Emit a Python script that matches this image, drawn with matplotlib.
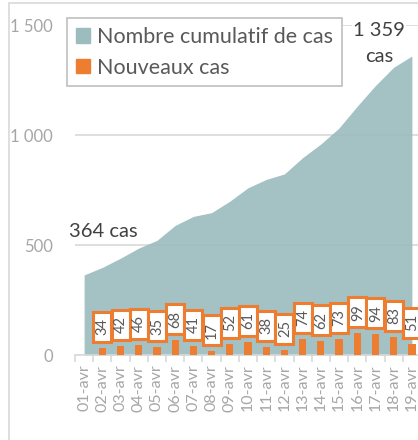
import matplotlib
matplotlib.use("Agg")
import matplotlib.pyplot as plt
import matplotlib.transforms as mtransforms
from matplotlib.patches import Rectangle, Patch

plt.rcParams['font.family'] = ['Lato', 'DejaVu Sans']

# data
days = ['01-avr', '02-avr', '03-avr', '04-avr', '05-avr', '06-avr', '07-avr',
        '08-avr', '09-avr', '10-avr', '11-avr', '12-avr', '13-avr', '14-avr',
        '15-avr', '16-avr', '17-avr', '18-avr', '19-avr']
cumul = [364, 398, 440, 486, 521, 589, 630, 647, 699, 760, 798, 823, 897,
         959, 1032, 1131, 1225, 1308, 1359]
nouveaux = [None, 34, 42, 46, 35, 68, 41, 17, 52, 61, 38, 25, 74, 62, 73,
            99, 94, 83, 51]

TEAL = '#9cbcbe'
ORANGE = '#ed7d31'

W, H = 418, 440
fig = plt.figure(figsize=(W / 100, H / 100), dpi=100)

# outer chart frame (cropped screenshot)
fig.patches.append(Rectangle((9 / W, -0.1), 1.2, 1 - 3 / H + 0.1, transform=fig.transFigure,
                             fill=False, edgecolor='#d9d9d9', linewidth=1.2))

ax = fig.add_axes([75 / W, 85 / H, 346 / W, 330 / H])
x = list(range(len(days)))

ax.fill_between(x, cumul, 0, color=TEAL, linewidth=0, zorder=2, alpha=0.92)
xb = [i for i, v in zip(x, nouveaux) if v is not None]
vb = [v for v in nouveaux if v is not None]
ax.bar(xb, vb, width=0.4, color=ORANGE, zorder=3)

# data labels: white boxes with orange border, sized in pixels above each bar
bw, bh, gap = 18, 30, 6
for i, v in zip(xb, vb):
    tr = mtransforms.ScaledTranslation(i, v, ax.transData)
    ax.add_patch(Rectangle((-bw / 2, gap), bw, bh, transform=tr, fc='white',
                           ec=ORANGE, lw=2.2, zorder=5, clip_on=False))
    ax.annotate(str(v), (i, v), xytext=(0.5, gap + bh / 2), textcoords='offset pixels',
                rotation=90, ha='center', va='center', fontsize=10.5, color='#595959',
                zorder=6, annotation_clip=False)

ax.set_xlim(-0.5, len(days) - 0.5)
ax.set_ylim(0, 1500)
ax.set_yticks([0, 500, 1000, 1500])
ax.set_yticklabels(['0', '500', '1 000', '1 500'])
ax.yaxis.grid(True, color='#d9d9d9', linewidth=1.2, zorder=1)
ax.set_axisbelow(True)
ax.tick_params(axis='y', length=0, pad=16, labelsize=12, labelcolor='#a6a6a6')

ax.set_xticks(x)
ax.set_xticklabels(days, rotation=90, fontsize=11.5, color='#a6a6a6')
ax.set_xticks([i - 0.5 for i in range(len(days) + 1)], minor=True)
ax.tick_params(axis='x', which='major', length=0, pad=7)
ax.tick_params(axis='x', which='minor', length=5, color='#d9d9d9', width=1.2)

for s in ['top', 'right', 'left']:
    ax.spines[s].set_visible(False)
ax.spines['bottom'].set_color('#d9d9d9')
ax.spines['bottom'].set_linewidth(1.2)

ax.text(-0.85, 560, f'{cumul[0]} cas', fontsize=14.5, color='#404040',
        ha='left', va='center', zorder=6)
ax.text(len(days) - 2.8, 1477, '1 359', fontsize=14.5, color='#404040',
        ha='center', va='center', zorder=6,
        bbox=dict(fc='white', ec='none', pad=1))
ax.text(len(days) - 2.8, 1355, 'cas', fontsize=14.5, color='#404040',
        ha='center', va='center', zorder=6)

handles = [Patch(color=TEAL), Patch(color=ORANGE)]
leg = ax.legend(handles, ['Nombre cumulatif de cas', 'Nouveaux cas'],
                loc='upper left', bbox_to_anchor=(-8 / 346, 1.02),
                handlelength=0.65, handleheight=0.65, handletextpad=0.35,
                labelcolor='#595959', fancybox=False, framealpha=1,
                edgecolor='#bfbfbf', borderpad=0.4, labelspacing=0.5,
                borderaxespad=0, prop={'size': 15.5})
leg.get_frame().set_linewidth(1.2)
leg.set_zorder(7)

fig.savefig('out.png', dpi=100)
